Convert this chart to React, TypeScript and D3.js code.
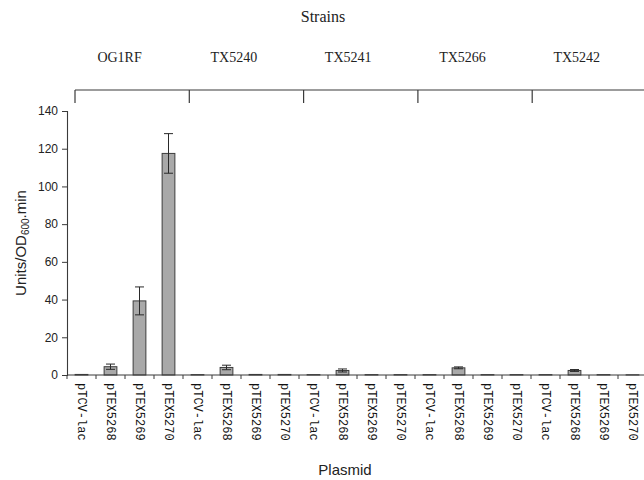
import React, { useRef, useEffect } from "react";
import * as d3 from "d3";

const strains = ["OG1RF", "TX5240", "TX5241", "TX5266", "TX5242"];
const plasmids = ["pTCV-lac", "pTEX5268", "pTEX5269", "pTEX5270"];

// one row per strain, same order as plasmids
const activity = [
  [0.3, 4.4, 39.3, 117.5],
  [0.2, 4.0, 0.3, 0.3],
  [0.2, 2.4, 0.2, 0.2],
  [0.2, 3.8, 0.2, 0.2],
  [0.2, 2.4, 0.2, 0.1],
];
const errors = [
  [0, 1.4, 7.4, 10.5],
  [0, 1.2, 0, 0],
  [0, 0.8, 0, 0],
  [0, 0.5, 0, 0],
  [0, 0.5, 0, 0],
];
const yTicks = [0, 20, 40, 60, 80, 100, 120, 140];

const W = 644;
const H = 480;

const App = () => {
  const svgRef = useRef<SVGSVGElement>(null);

  useEffect(() => {
    const svg = d3.select(svgRef.current);
    svg.selectAll("*").remove();

    const rows = strains.flatMap((s, i) =>
      plasmids.map((p, j) => ({
        key: `${s}-${p}`,
        strain: s,
        plasmid: p,
        value: activity[i][j],
        err: errors[i][j],
      }))
    );

    const margin = { left: 67, top: 111, bottom: 375 };
    const x = d3
      .scaleBand()
      .domain(rows.map((d) => d.key))
      .range([margin.left, margin.left + rows.length * 29])
      .paddingInner(0.56)
      .paddingOuter(0.28);
    const y = d3
      .scaleLinear()
      .domain([0, 140])
      .range([margin.bottom, margin.top]);

    const ink = "#3a3a3a";

    // strain brackets across the top
    const gx = d3
      .scaleBand()
      .domain(strains)
      .range([75, 75 + strains.length * 114.3]);
    const top = svg.append("g");
    top
      .append("line")
      .attr("x1", gx.range()[0])
      .attr("x2", gx.range()[1])
      .attr("y1", 90)
      .attr("y2", 90)
      .attr("stroke", ink)
      .attr("stroke-width", 1.2);
    top
      .selectAll("line.tick")
      .data(strains)
      .join("line")
      .attr("class", "tick")
      .attr("x1", (d) => gx(d)!)
      .attr("x2", (d) => gx(d)!)
      .attr("y1", 90)
      .attr("y2", 103)
      .attr("stroke", ink)
      .attr("stroke-width", 1.2);
    top
      .selectAll("text")
      .data(strains)
      .join("text")
      .attr("x", (d) => gx(d)! + gx.bandwidth() * 0.39)
      .attr("y", 62)
      .attr("text-anchor", "middle")
      .attr("font-family", "'Liberation Serif', serif")
      .attr("font-size", 14)
      .attr("fill", "#222")
      .text((d) => d);
    svg
      .append("text")
      .attr("x", 323)
      .attr("y", 22)
      .attr("text-anchor", "middle")
      .attr("font-family", "'Liberation Serif', serif")
      .attr("font-size", 16)
      .attr("fill", "#222")
      .text("Strains");

    // bars
    svg
      .append("g")
      .selectAll("rect")
      .data(rows)
      .join("rect")
      .attr("x", (d) => x(d.key)!)
      .attr("width", x.bandwidth())
      .attr("y", (d) => y(d.value))
      .attr("height", (d) => y(0) - y(d.value))
      .attr("fill", "#a9a9a9")
      .attr("stroke", "#3d3d3d")
      .attr("stroke-width", 1);

    // error bars
    const eb = svg
      .append("g")
      .selectAll("g")
      .data(rows.filter((d) => d.err > 0))
      .join("g")
      .attr("stroke", "#2a2a2a")
      .attr("stroke-width", 1);
    const cx = (d) => x(d.key)! + x.bandwidth() / 2;
    eb.append("line")
      .attr("x1", cx)
      .attr("x2", cx)
      .attr("y1", (d) => y(d.value + d.err))
      .attr("y2", (d) => y(d.value - d.err));
    [1, -1].forEach((s) => {
      eb.append("line")
        .attr("x1", (d) => cx(d) - 4.5)
        .attr("x2", (d) => cx(d) + 4.5)
        .attr("y1", (d) => y(d.value + s * d.err))
        .attr("y2", (d) => y(d.value + s * d.err));
    });

    // y axis
    const yAxis = svg
      .append("g")
      .attr("transform", `translate(${margin.left},0)`)
      .call(d3.axisLeft(y).tickValues(yTicks).tickSize(5).tickPadding(4));
    yAxis.select(".domain").attr("stroke", ink).attr("stroke-width", 1.1);
    yAxis.selectAll("line").attr("stroke", ink);
    yAxis
      .selectAll("text")
      .attr("font-family", "'Liberation Sans', Arial, sans-serif")
      .attr("font-size", 12)
      .attr("fill", "#222");

    // x axis: ticks at band boundaries, labels rotated
    const xg = svg.append("g");
    xg.append("line")
      .attr("x1", margin.left)
      .attr("x2", x.range()[1])
      .attr("y1", y(0))
      .attr("y2", y(0))
      .attr("stroke", ink)
      .attr("stroke-width", 1.1);
    const step = x.step();
    xg.selectAll("line.tk")
      .data(rows)
      .join("line")
      .attr("class", "tk")
      .attr("x1", (d) => cx(d) - step / 2)
      .attr("x2", (d) => cx(d) - step / 2)
      .attr("y1", y(0))
      .attr("y2", y(0) + 4)
      .attr("stroke", ink);
    xg.selectAll("text")
      .data(rows)
      .join("text")
      .attr(
        "transform",
        (d) => `translate(${cx(d) - 4},${y(0) + 8}) rotate(90)`
      )
      .attr("text-anchor", "start")
      .attr("font-family", "'Liberation Mono', 'Courier New', monospace")
      .attr("font-size", 12)
      .attr("fill", "#111")
      .text((d) => d.plasmid);

    // axis titles
    const yt = svg
      .append("text")
      .attr("transform", `translate(26,243) rotate(-90)`)
      .attr("text-anchor", "middle")
      .attr("font-family", "'Liberation Sans', Arial, sans-serif")
      .attr("font-size", 15)
      .attr("fill", "#222");
    yt.append("tspan").text("Units/OD");
    yt.append("tspan")
      .attr("font-size", 10)
      .attr("dy", 3)
      .text("600");
    yt.append("tspan").attr("dy", -3).text(".min");

    svg
      .append("text")
      .attr("x", 345)
      .attr("y", 475)
      .attr("text-anchor", "middle")
      .attr("font-family", "'Liberation Sans', Arial, sans-serif")
      .attr("font-size", 15)
      .attr("fill", "#222")
      .text("Plasmid");
  }, []);

  return (
    <svg
      ref={svgRef}
      width={W}
      height={H}
      style={{ position: "absolute", left: 0, top: 0, background: "#fff" }}
    />
  );
};

export default App;
